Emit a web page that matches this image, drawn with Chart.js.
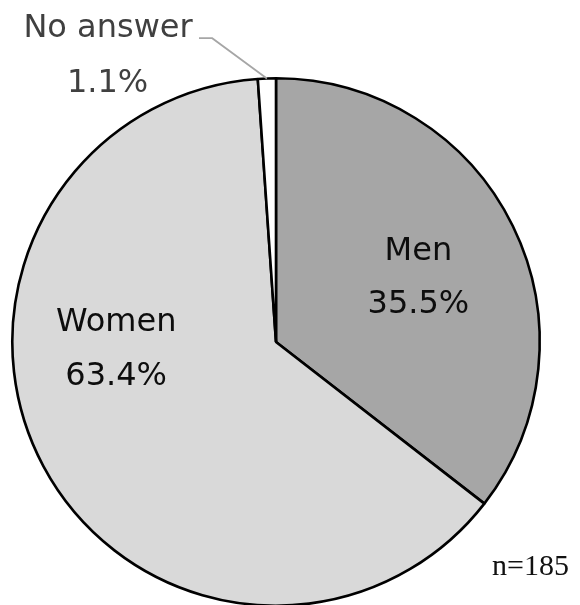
<!DOCTYPE html>
<html>
<head>
<meta charset="utf-8">
<script src="https://cdn.jsdelivr.net/npm/chart.js@4.4.0/dist/chart.umd.min.js"></script>
<style>
  html, body { margin: 0; padding: 0; background: #fff; overflow: hidden; }
  #wrap { width: 580px; height: 605px; overflow: hidden; }
</style>
</head>
<body>
<div id="wrap"><canvas id="myChart" width="580" height="610"></canvas></div>
<script>
const categories = ['Men', 'Women', 'No answer']
const shares = [35.5, 63.4, 1.1]
const sliceColors = ['#a6a6a6', '#d9d9d9', '#ffffff']
const sampleNote = 'n=185'

// labels drawn next to the slices, offsets as fractions of the radius
const pieLabels = {
  id: 'pieLabels',
  afterDatasetsDraw(chart) {
    const ctx = chart.ctx
    const arcs = chart.getDatasetMeta(0).data
    const cx = arcs[0].x
    const cy = arcs[0].y
    const r = arcs[0].outerRadius
    ctx.save()
    ctx.font = '32px "DejaVu Sans"'
    ctx.textBaseline = 'alphabetic'
    ctx.textAlign = 'center'

    // Men
    ctx.fillStyle = '#0d0d0d'
    ctx.fillText(categories[0], cx + r * 0.54, cy - r * 0.311)
    ctx.fillText(shares[0].toFixed(1) + '%', cx + r * 0.54, cy - r * 0.11)

    // Women
    ctx.fillText(categories[1], cx - r * 0.606, cy - r * 0.042)
    ctx.fillText(shares[1].toFixed(1) + '%', cx - r * 0.606, cy + r * 0.163)

    // No answer, outside with leader line
    const a = arcs[2]
    const mid = (a.startAngle + a.endAngle) / 2
    const ex = cx + Math.cos(mid) * r
    const ey = cy + Math.sin(mid) * r
    ctx.strokeStyle = '#a6a6a6'
    ctx.lineWidth = 1.75
    ctx.beginPath()
    ctx.moveTo(cx - r * 0.292, cy - r * 1.152)
    ctx.lineTo(cx - r * 0.242, cy - r * 1.152)
    ctx.lineTo(ex, ey)
    ctx.stroke()

    ctx.fillStyle = '#404040'
    ctx.textAlign = 'left'
    ctx.fillText(categories[2], cx - r * 0.958, cy - r * 1.155)
    ctx.fillText(shares[2].toFixed(1) + '%', cx - r * 0.793, cy - r * 0.947)

    // sample size
    ctx.fillStyle = '#111'
    ctx.font = '30px "Liberation Serif"'
    ctx.textAlign = 'right'
    ctx.fillText(sampleNote, 569, 575)
    ctx.restore()
  }
}

const ctx1 = document.getElementById('myChart')
const data1 = {
  labels: categories,
  datasets: [{
    data: shares,
    backgroundColor: sliceColors,
    borderColor: '#000',
    borderWidth: 2.6,
    borderAlign: 'center'
  }]
}

const config1 = {
  type: 'pie',
  data: data1,
  options: {
    responsive: false,
    animation: false,
    layout: {
      padding: { left: 11, right: 39, top: 77, bottom: 3 }
    },
    plugins: {
      legend: { display: false },
      tooltip: { enabled: false }
    }
  },
  plugins: [pieLabels]
}
const myChart = new Chart(ctx1, config1)
</script>
</body>
</html>
